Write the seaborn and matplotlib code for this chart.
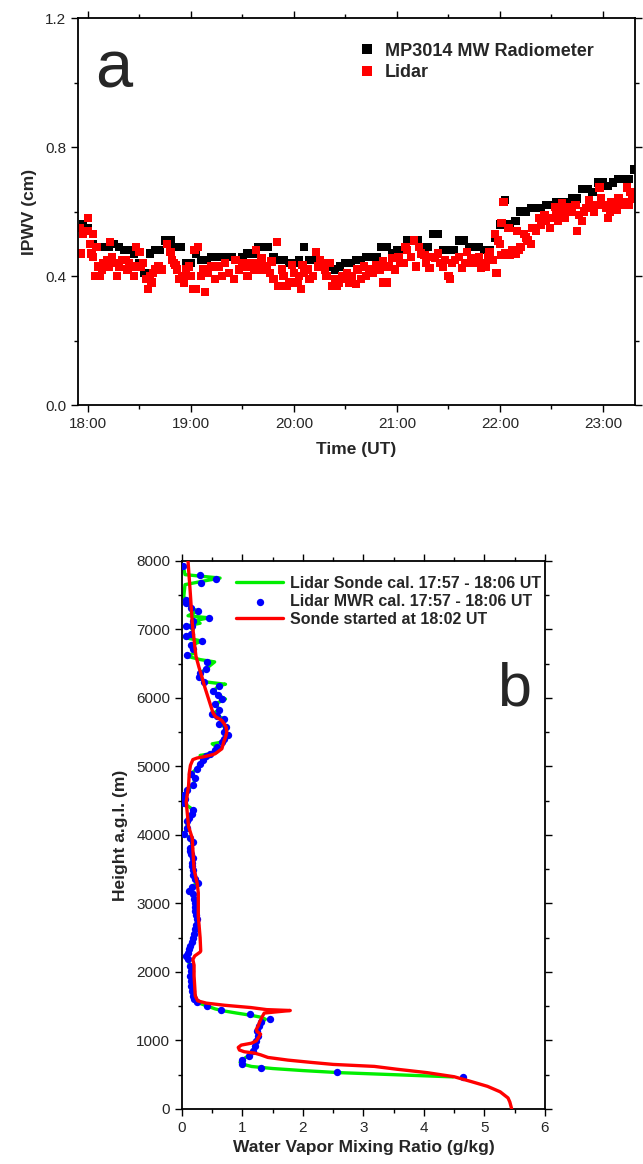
import numpy as np
import pandas as pd
import seaborn as sns
import matplotlib
matplotlib.use('Agg')
import matplotlib.pyplot as plt
from matplotlib.ticker import MultipleLocator, FixedLocator, FixedFormatter, FormatStrFormatter

# ---- panel a: IPWV time series ----
# radiometer every 3 min starting 17:57 (minutes after 18:00)
mwr_start_min = -3
mwr_step_min = 3
mwr_ipwv = [0.56, 0.55, 0.50, 0.49, 0.49, 0.49, 0.50, 0.49, 0.48, 0.48, 0.47, 0.44, 0.41, 0.47, 0.48,
            0.48, 0.51, 0.51, 0.49, 0.49, 0.44,
            0.44, 0.47, 0.45, 0.45, 0.46, 0.46, 0.46, 0.46, 0.46, 0.45, 0.46, 0.47, 0.47, 0.49, 0.49,
            0.49, 0.46, 0.45, 0.45, 0.44,
            0.44, 0.45, 0.49, 0.45, 0.45, 0.44, 0.44, 0.43, 0.42, 0.43, 0.44, 0.44, 0.45, 0.45, 0.46,
            0.46, 0.46, 0.49, 0.49, 0.47,
            0.48, 0.48, 0.51, 0.51, 0.51, 0.49, 0.49, 0.53, 0.53, 0.48, 0.48, 0.48, 0.51, 0.51, 0.49,
            0.49, 0.49, 0.48, 0.48, 0.52,
            0.56, 0.635, 0.56, 0.57, 0.60, 0.60, 0.61, 0.61, 0.61, 0.62, 0.62, 0.63, 0.63, 0.63, 0.64,
            0.64, 0.67, 0.67, 0.66, 0.69,
            0.69, 0.68, 0.69, 0.70, 0.70, 0.70, 0.73]

# lidar, minutes after 18:00 and IPWV (cm)
lidar_min = [-5, -4, -3, -2, 0, 0, 1, 2, 3, 3, 4, 5, 6, 7, 8, 9, 11, 12, 13, 14, 16, 17, 18, 20, 22, 23, 24,
             26, 27, 28, 30, 31, 32, 34, 35, 36, 37, 38, 39, 41, 43, 46, 48, 49, 50, 51, 52, 53, 55, 56, 57,
             59, 60, 61, 62, 63, 64, 66, 67, 68, 70, 72, 74, 76, 78, 80, 82, 85, 86, 88, 90, 92, 93, 95, 97,
             98, 100, 101, 102, 104, 106, 107, 108, 110, 111, 113, 114, 116, 117, 119, 120, 122, 123, 124,
             125, 126, 128, 129, 131, 133, 134, 135, 137, 138, 139, 141, 142, 144, 145, 146, 148, 150, 151,
             152, 154, 156, 157, 159, 161, 162, 164, 166, 168, 170, 172, 172, 174, 175, 177, 179, 181, 182,
             184, 185, 186, 188, 190, 191, 193, 194, 196, 197, 199, 200, 202, 204, 205, 207, 208, 210, 211,
             212, 214, 216, 218, 220, 221, 223, 225, 226, 228, 229, 231, 232, 233, 234, 236, 237, 238, 239,
             240, 241, 241, 242, 243, 245, 246, 247, 249, 250, 251, 252, 254, 255, 256, 258, 259, 261, 263,
             264, 266, 267, 269, 270, 272, 273, 274, 276, 277, 278, 280, 281, 282, 284, 285, 286, 288, 289,
             290, 292, 293, 295, 296, 298, 299, 300, 302, 303, 304, 305, 307, 308, 309, 311, 312, 314, 315,
             316, 317]
lidar_ipwv = [0.55, 0.47, 0.53, 0.54, 0.58, 0.54, 0.50, 0.47, 0.53, 0.46, 0.40, 0.49, 0.43, 0.40, 0.42, 0.44,
              0.45, 0.43, 0.505, 0.46, 0.44, 0.40, 0.43, 0.45, 0.45, 0.42, 0.44,
              0.43, 0.40, 0.49, 0.475, 0.43, 0.44, 0.39, 0.36, 0.40, 0.38, 0.41, 0.42, 0.43, 0.42, 0.50,
              0.475, 0.45, 0.44, 0.435, 0.42, 0.39, 0.40, 0.38, 0.42,
              0.43, 0.40, 0.36, 0.48, 0.36, 0.49, 0.40, 0.42, 0.35, 0.41, 0.43, 0.39, 0.43, 0.40, 0.44,
              0.41, 0.39, 0.45, 0.42, 0.44, 0.43, 0.40, 0.44, 0.42,
              0.48, 0.44, 0.455, 0.42, 0.43, 0.41, 0.445, 0.39, 0.505, 0.37, 0.42, 0.40, 0.37, 0.38, 0.435,
              0.41, 0.38, 0.40, 0.36,
              0.435, 0.41, 0.42, 0.39, 0.40, 0.475, 0.43, 0.45, 0.44, 0.42, 0.40, 0.44, 0.37, 0.39, 0.37,
              0.38, 0.40, 0.39, 0.41,
              0.38, 0.40, 0.375, 0.42, 0.39, 0.43, 0.40, 0.42, 0.41, 0.435, 0.42, 0.38, 0.445, 0.38, 0.43,
              0.455, 0.42, 0.46, 0.44,
              0.44, 0.49, 0.48, 0.46, 0.51, 0.43, 0.49, 0.47, 0.465, 0.44, 0.425, 0.46, 0.455, 0.47, 0.44,
              0.43, 0.45, 0.40, 0.39,
              0.44, 0.45, 0.46, 0.425, 0.44, 0.475, 0.455, 0.44, 0.45, 0.46, 0.425, 0.44, 0.43, 0.46, 0.475,
              0.45, 0.53, 0.41, 0.51,
              0.50, 0.565, 0.465, 0.63, 0.47, 0.55, 0.465, 0.48, 0.47, 0.54, 0.48, 0.49, 0.53, 0.52, 0.51,
              0.50, 0.55, 0.54, 0.58,
              0.56, 0.59, 0.57, 0.55, 0.58, 0.615, 0.59, 0.57, 0.625, 0.60, 0.58, 0.60, 0.615, 0.60, 0.62,
              0.54, 0.59, 0.57, 0.60,
              0.61, 0.635, 0.61, 0.60, 0.62, 0.675, 0.64, 0.62, 0.61, 0.58, 0.60, 0.63, 0.62, 0.605, 0.64,
              0.62, 0.63, 0.675, 0.62,
              0.66, 0.64]

hour_ticks = [18, 19, 20, 21, 22, 23]
hour_labels = ['18:00', '19:00', '20:00', '21:00', '22:00', '23:00']

# ---- panel b: mixing ratio profiles ----
green_h = [468, 500, 530, 560, 590, 620, 650, 680, 720, 777, 850, 922, 995, 1068, 1140, 1213, 1262, 1310,
           1340, 1370, 1400, 1430, 1460, 1505, 1540, 1563, 1610, 1650, 1720, 1796, 1870, 1941, 2010, 2087,
           2184, 2233, 2281, 2330, 2378, 2440, 2500, 2560, 2621, 2690, 2767, 2830, 2888, 2950, 3010, 3070,
           3131, 3180, 3240, 3300, 3350, 3420, 3495, 3550, 3592, 3665, 3720, 3762, 3806, 3903, 3952, 4015,
           4100, 4208, 4242, 4300, 4363, 4460, 4520, 4580, 4653, 4736, 4832, 4895, 4968, 5040, 5100, 5147,
           5160, 5186, 5234, 5283, 5330, 5355, 5400, 5452, 5510, 5573, 5621, 5694, 5742, 5767, 5830, 5912,
           5984, 6042, 6105, 6178, 6200, 6236, 6300, 6362, 6420, 6526, 6560, 6614, 6650, 6710, 6768, 6831,
           6880, 6904, 6928, 7010, 7050, 7090, 7122, 7170, 7200, 7267, 7315, 7388, 7436, 7480, 7654, 7700,
           7750, 7800, 7850, 7920]
green_mr = [4.48, 3.50, 2.60, 2.00, 1.50, 1.15, 1.02, 0.96, 1.00, 1.10, 1.17, 1.20, 1.23, 1.25, 1.24, 1.28,
            1.32, 1.38, 1.30, 1.12, 0.90, 0.70, 0.55, 0.41, 0.30, 0.25, 0.20, 0.18, 0.16, 0.15, 0.15, 0.14,
            0.15, 0.13, 0.10, 0.06, 0.10, 0.12, 0.14, 0.16, 0.18, 0.20, 0.22, 0.23, 0.25, 0.23, 0.22, 0.21,
            0.21, 0.20, 0.18, 0.11, 0.17, 0.24, 0.21, 0.19, 0.18, 0.17, 0.16, 0.18, 0.15, 0.13, 0.14, 0.19,
            0.14, 0.03, 0.09, 0.08, 0.11, 0.16, 0.19, 0.04, 0.05, 0.04, 0.08, 0.19, 0.22, 0.15, 0.25, 0.29,
            0.35, 0.39, 0.30, 0.47, 0.54, 0.58, 0.50, 0.66, 0.70, 0.76, 0.70, 0.72, 0.61, 0.69, 0.58, 0.50,
            0.62, 0.55, 0.72, 0.60, 0.52, 0.61, 0.72, 0.37, 0.28, 0.30, 0.39, 0.54, 0.30, 0.06, 0.20, 0.19,
            0.15, 0.33, 0.05, 0.07, 0.15, 0.19, 0.06, 0.30, 0.19, 0.44, 0.10, 0.26, 0.15, 0.07, 0.06, 0.03,
            0.05, 0.32, 0.63, 0.05, 0.04, 0.01]

blue_h = [468, 544, 597, 655, 718, 777, 850, 922, 995, 1068, 1140, 1213, 1262, 1320, 1383, 1442, 1505, 1563,
          1610, 1650, 1720, 1796, 1870, 1941, 2010, 2087, 2184, 2233, 2281, 2330, 2378, 2440, 2500, 2560,
          2621, 2690, 2767, 2830, 2888, 2950, 3010, 3070, 3131, 3180, 3240, 3300, 3350, 3420, 3495, 3550,
          3592, 3665, 3720, 3762, 3806, 3903, 3952, 4015, 4100, 4208, 4242, 4300, 4363, 4460, 4520, 4580,
          4653, 4736, 4832, 4895, 4968, 5040, 5100, 5147, 5186, 5234, 5283, 5355, 5400, 5452, 5510, 5573,
          5621, 5694, 5742, 5767, 5830, 5912, 5984, 6042, 6105, 6178, 6236, 6300, 6362, 6420, 6526, 6620,
          6710, 6768, 6831, 6904, 6928, 7047, 7050, 7122, 7170, 7267, 7315, 7388, 7436, 7678, 7736, 7800,
          7920]
blue_mr = [4.64, 2.57, 1.30, 1.00, 1.00, 1.10, 1.17, 1.20, 1.23, 1.25, 1.24, 1.28, 1.30, 1.46, 1.12, 0.64,
           0.41, 0.25, 0.20, 0.18, 0.16, 0.15, 0.15, 0.14, 0.15, 0.13, 0.10, 0.06, 0.10, 0.12, 0.14, 0.16,
           0.18, 0.20, 0.22, 0.23, 0.25, 0.23, 0.22, 0.21, 0.21, 0.20, 0.18, 0.11, 0.17, 0.27, 0.21, 0.19,
           0.18, 0.17, 0.16, 0.18, 0.15, 0.13, 0.14, 0.19, 0.14, 0.03, 0.09, 0.08, 0.11, 0.16, 0.19, 0.04,
           0.05, 0.04, 0.08, 0.19, 0.22, 0.15, 0.25, 0.29, 0.35, 0.39, 0.47, 0.54, 0.58, 0.66, 0.70, 0.76,
           0.70, 0.72, 0.61, 0.69, 0.58, 0.50, 0.62, 0.55, 0.66, 0.60, 0.52, 0.61, 0.37, 0.28, 0.30, 0.39,
           0.41, 0.08, 0.19, 0.15, 0.33, 0.07, 0.15, 0.17, 0.06, 0.19, 0.44, 0.26, 0.15, 0.07, 0.06, 0.32,
           0.56, 0.29, 0.01]

sonde_h = [0, 100, 160, 250, 330, 400, 470, 530, 580, 621, 650, 680, 713, 752, 790, 815, 835, 860, 898, 932,
           960, 995, 1050, 1092, 1130, 1165, 1210, 1262, 1335, 1400, 1437, 1450, 1480, 1514, 1545, 1578,
           1650, 1800, 1941, 2100, 2180, 2233, 2290, 2306, 2500, 2815, 3000, 3155, 3300, 3495, 3786, 3952,
           4121, 4300, 4484, 4600, 4726, 4900, 5016, 5100, 5123, 5147, 5170, 5186, 5258, 5355, 5428, 5500,
           5573, 5620, 5670, 5730, 5790, 5984, 6150, 6275, 6450, 6614, 6850, 7100, 7500, 8000]
sonde_mr = [5.45, 5.42, 5.39, 5.26, 5.05, 4.78, 4.50, 4.05, 3.55, 3.18, 2.50, 2.13, 1.75, 1.42, 1.30, 1.20,
            1.03, 0.95, 0.93, 0.98, 1.15, 1.23, 1.27, 1.30, 1.24, 1.23, 1.26, 1.28, 1.32, 1.36, 1.79, 1.40,
            1.14, 0.70, 0.40, 0.26, 0.22, 0.21, 0.20, 0.20, 0.18, 0.21, 0.30, 0.31, 0.30, 0.27, 0.27, 0.27,
            0.25, 0.20, 0.18, 0.17, 0.11, 0.09, 0.07, 0.09, 0.11, 0.12, 0.14, 0.18, 0.25, 0.39, 0.50, 0.55,
            0.66, 0.69, 0.72, 0.74, 0.73, 0.70, 0.66, 0.55, 0.51, 0.44, 0.38, 0.34, 0.28, 0.23, 0.20, 0.17,
            0.14, 0.10]

sns.set_style('ticks')
plt.rcParams['font.family'] = ['Liberation Sans', 'DejaVu Sans']

fig = plt.figure(figsize=(6.43, 11.64), dpi=100)

# ---------------- panel a ----------------
ax = fig.add_axes([0.1213, 0.652, 0.866, 0.3325])
mwr_t = 18 + (mwr_start_min + mwr_step_min * np.arange(len(mwr_ipwv))) / 60.0
lid_t = 18 + np.array(lidar_min) / 60.0
df_a = pd.DataFrame({
    'time': np.concatenate([mwr_t, lid_t]),
    'ipwv': mwr_ipwv + lidar_ipwv,
    'src': ['MP3014 MW Radiometer'] * len(mwr_ipwv) + ['Lidar'] * len(lidar_ipwv),
})
sns.scatterplot(data=df_a, x='time', y='ipwv', hue='src', marker='s', s=36, linewidth=0,
                palette={'MP3014 MW Radiometer': 'black', 'Lidar': '#ff0000'}, ax=ax)
ax.set_xlim(17.903, 23.31)
ax.set_ylim(0, 1.2)
ax.xaxis.set_major_locator(FixedLocator(hour_ticks))
ax.xaxis.set_major_formatter(FixedFormatter(hour_labels))
ax.xaxis.set_minor_locator(MultipleLocator(0.5))
ax.yaxis.set_major_locator(MultipleLocator(0.4))
ax.yaxis.set_minor_locator(MultipleLocator(0.2))
ax.yaxis.set_major_formatter(FormatStrFormatter('%.1f'))
ax.set_xlabel('Time (UT)', fontsize=12.5, fontweight='bold', labelpad=8)
ax.set_ylabel('IPWV (cm)', fontsize=12.5, fontweight='bold', labelpad=6)
h, l = ax.get_legend_handles_labels()
ax.legend(h, l, loc='upper left', bbox_to_anchor=(0.49, 0.955), frameon=False,
          prop={'weight': 'bold', 'size': 13}, handletextpad=0.5, labelspacing=0.25,
          handlelength=1.0, markerscale=1.3, borderaxespad=0)
ax.text(0.03, 0.82, 'a', transform=ax.transAxes, fontsize=48, va='baseline', ha='left')

# ---------------- panel b ----------------
bx = fig.add_axes([0.283, 0.0473, 0.5645, 0.4708])
sns.lineplot(x=green_mr, y=green_h, orient='y', sort=False, estimator=None, color='#00ee00', lw=2.4,
             label='Lidar Sonde cal. 17:57 - 18:06 UT', ax=bx)
sns.scatterplot(x=blue_mr, y=blue_h, color='#0000ff', s=28, linewidth=0,
                label='Lidar MWR cal. 17:57 - 18:06 UT', ax=bx, zorder=3)
sns.lineplot(x=sonde_mr, y=sonde_h, orient='y', sort=False, estimator=None, color='#ff0000', lw=2.4,
             label='Sonde started at 18:02 UT', ax=bx, zorder=4)
bx.set_xlim(0, 6)
bx.set_ylim(0, 8000)
bx.xaxis.set_major_locator(MultipleLocator(1))
bx.xaxis.set_minor_locator(MultipleLocator(0.5))
bx.yaxis.set_major_locator(MultipleLocator(1000))
bx.yaxis.set_minor_locator(MultipleLocator(500))
bx.set_xlabel('Water Vapor Mixing Ratio (g/kg)', fontsize=12.5, fontweight='bold', labelpad=4)
bx.set_ylabel('Height a.g.l. (m)', fontsize=12.5, fontweight='bold', labelpad=6)
bx.legend(loc='upper left', bbox_to_anchor=(0.13, 0.985), frameon=False,
          prop={'weight': 'bold', 'size': 11.5}, handlelength=3.0, handletextpad=0.4,
          labelspacing=0.2, borderaxespad=0)
bx.text(0.868, 0.737, 'b', transform=bx.transAxes, fontsize=44, va='baseline', ha='left')

for a in (ax, bx):
    a.tick_params(which='both', direction='out', top=True, right=True, labelsize=11, width=1.0, color='black')
    a.tick_params(which='major', length=5)
    a.tick_params(which='minor', length=3)
    for sp in a.spines.values():
        sp.set_visible(True)
        sp.set_linewidth(1.3)
        sp.set_color('black')

fig.savefig('out.png', dpi=100)
